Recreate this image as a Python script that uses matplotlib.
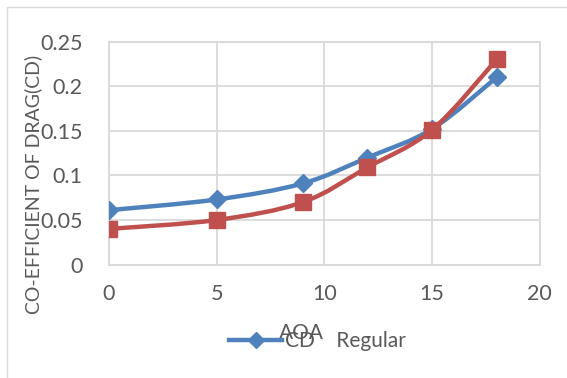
import numpy as np
import matplotlib
matplotlib.use("Agg")
import matplotlib.pyplot as plt
from matplotlib.path import Path
from matplotlib.patches import PathPatch, Rectangle

# angle of attack (deg) and drag coefficient readings
aoa = [0, 5, 9, 12, 15, 18]
cd_blue = [0.061, 0.073, 0.091, 0.12, 0.152, 0.21]
cd_red = [0.04, 0.05, 0.07, 0.109, 0.151, 0.23]

blue = '#4F81BD'
red = '#C0504D'
grey_text = '#595959'

plt.rcParams['font.family'] = ['Lato', 'DejaVu Sans']


def smooth_path(x, y):
    # cubic bezier through the points, like a spreadsheet "smoothed line"
    pts = np.column_stack([x, y]).astype(float)
    n = len(pts)
    verts = [pts[0]]
    codes = [Path.MOVETO]
    for i in range(n - 1):
        p0 = pts[i - 1] if i > 0 else pts[i]
        p1 = pts[i]
        p2 = pts[i + 1]
        p3 = pts[i + 2] if i + 2 < n else pts[i + 1]
        c1 = p1 + (p2 - p0) / 6.0
        c2 = p2 - (p3 - p1) / 6.0
        verts += [c1, c2, p2]
        codes += [Path.CURVE4] * 3
    return Path(verts, codes)


fig = plt.figure(figsize=(5.67, 3.78), dpi=100)
ax = fig.add_axes([0.192, 0.30, 0.760, 0.590])

fig.patches.append(Rectangle((7 / 567, -0.1), 1.2, 1 - 7 / 378 + 0.1, transform=fig.transFigure,
                             fill=False, edgecolor='#D9D9D9', linewidth=1.0))

for yv, col, mk, ms in [(cd_blue, blue, 'D', 9), (cd_red, red, 's', 11.5)]:
    ax.add_patch(PathPatch(smooth_path(aoa, yv), facecolor='none', edgecolor=col,
                           linewidth=3.2, capstyle='round', joinstyle='round', zorder=3))
    ax.plot(aoa, yv, linestyle='none', marker=mk, markersize=ms, color=col, zorder=4)

ax.set_xlim(0, 20)
ax.set_ylim(0, 0.25)
ax.set_xticks([0, 5, 10, 15, 20])
ax.set_yticks([0, 0.05, 0.1, 0.15, 0.2, 0.25])
ax.set_yticklabels(['0', '0.05', '0.1', '0.15', '0.2', '0.25'])
ax.grid(True, color='#D9D9D9', linewidth=1.3)
ax.set_axisbelow(True)
for s in ax.spines.values():
    s.set_color('#D9D9D9')
    s.set_linewidth(1.3)
ax.tick_params(length=0, labelsize=15.5, colors=grey_text)
ax.tick_params(axis='x', pad=14)
ax.tick_params(axis='y', pad=19)

ax.set_ylabel('CO-EFFICIENT OF DRAG(CD)', fontsize=14, color=grey_text)
ax.yaxis.set_label_coords(-0.155, 0.36)
ax.set_xlabel('AOA', fontsize=15, color=grey_text)
ax.xaxis.set_label_coords(0.447, -0.26)

h = ax.plot([], [], color=blue, linewidth=3.2, marker='D', markersize=8)[0]
fig.legend([h], ['CD    Regular'], loc='center', bbox_to_anchor=(0.56, 0.098),
           frameon=False, fontsize=15, labelcolor=grey_text, handlelength=2.5,
           handletextpad=0.15)

fig.savefig('out.png', dpi=100)
